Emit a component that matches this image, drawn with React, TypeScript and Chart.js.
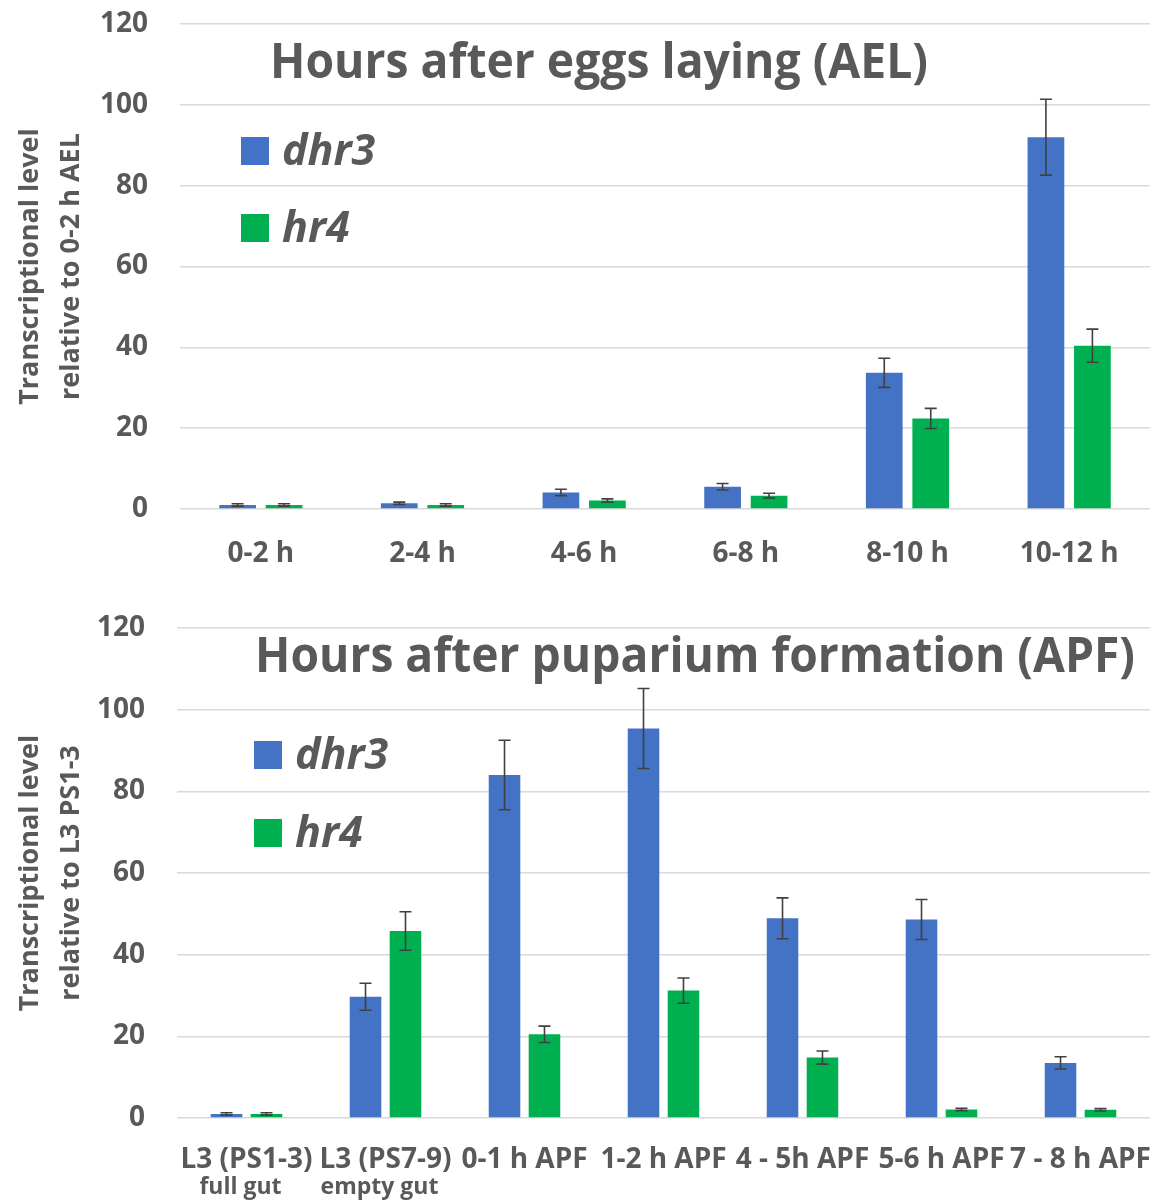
import React, { useEffect, useRef } from "react";
import { Chart, registerables } from "chart.js";

Chart.register(...registerables);

// ---------- data ----------
const topCategories = ["0-2 h", "2-4 h", "4-6 h", "6-8 h", "8-10 h", "10-12 h"];
const topDhr3 = [1.0, 1.4, 4.1, 5.5, 33.7, 92.0];
const topDhr3Err = [0.3, 0.3, 0.8, 0.8, 3.6, 9.4];
const topHr4 = [1.0, 1.0, 2.1, 3.3, 22.4, 40.4];
const topHr4Err = [0.3, 0.3, 0.4, 0.6, 2.5, 4.1];

const botCategories = ["L3 (PS1-3)", "L3 (PS7-9)", "0-1 h APF", "1-2 h APF", "4 - 5h APF", "5-6 h APF", "7 - 8 h APF"];
const botSubLabels = ["full gut", "empty gut", "", "", "", "", ""];
const botDhr3 = [1.0, 29.7, 84.0, 95.4, 48.9, 48.6, 13.5];
const botDhr3Err = [0.3, 3.3, 8.5, 9.8, 5.0, 4.9, 1.5];
const botHr4 = [1.0, 45.8, 20.5, 31.2, 14.8, 2.1, 2.0];
const botHr4Err = [0.3, 4.7, 2.0, 3.1, 1.6, 0.3, 0.3];

const seriesNames = ["dhr3", "hr4"];
const yTicks = [0, 20, 40, 60, 80, 100, 120];

const topTitle = "Hours after eggs laying (AEL)";
const botTitle = "Hours after puparium formation (APF)";
const topYTitle = ["Transcriptional level", "relative to 0-2 h AEL"];
const botYTitle = ["Transcriptional level", "relative to L3 PS1-3"];

// ---------- style ----------
const FONT = '"Open Sans", sans-serif';
const GREY = "#595959";
const BLUE = "#4472C4";
const GREEN = "#00B050";
const ERR = "#404040";
const GRID = "#d9d9d9";

type Props = {
  categories: string[];
  subLabels?: string[];
  dhr3: number[];
  dhr3Err: number[];
  hr4: number[];
  hr4Err: number[];
  title: string;
  titleX: number;
  titleW: number;
  titleBaseline: number;
  yTitle: string[];
  top: number;
  bottom: number;
  left: number;
  legendX: number;
  legendTextX: number;
  legendY: number[];
  tickPad: number;
};

function BarChart(p: Props) {
  const ref = useRef<HTMLCanvasElement | null>(null);
  useEffect(() => {
    if (!ref.current) return;
    const H = 600;
    const errs = [p.dhr3Err, p.hr4Err];
    const vals = [p.dhr3, p.hr4];
    const colors = [BLUE, GREEN];

    const overlay = {
      id: "overlay",
      afterDatasetsDraw(chart: any) {
        const ctx = chart.ctx;
        const ys = chart.scales.y;
        ctx.save();
        ctx.strokeStyle = ERR;
        ctx.lineWidth = 1.6;
        for (let i = 0; i < 2; i++) {
          const meta = chart.getDatasetMeta(i);
          meta.data.forEach((el: any, j: number) => {
            const v = vals[i][j];
            const e = errs[i][j];
            const y1 = ys.getPixelForValue(v + e);
            const y2 = ys.getPixelForValue(v - e);
            const x = el.x;
            ctx.beginPath();
            ctx.moveTo(x, y1);
            ctx.lineTo(x, y2);
            ctx.moveTo(x - 6, y1);
            ctx.lineTo(x + 6, y1);
            ctx.moveTo(x - 6, y2);
            ctx.lineTo(x + 6, y2);
            ctx.stroke();
          });
        }
        ctx.restore();
      },
      afterDraw(chart: any) {
        const ctx = chart.ctx;
        ctx.save();
        // title
        ctx.fillStyle = GREY;
        ctx.font = `bold 49px ${FONT}`;
        ctx.textAlign = "left";
        ctx.textBaseline = "alphabetic";
        ctx.fillText(p.title, p.titleX, p.titleBaseline, p.titleW);
        // legend
        for (let i = 0; i < 2; i++) {
          ctx.fillStyle = colors[i];
          ctx.fillRect(p.legendX, p.legendY[i] - 28, 28, 28);
          ctx.fillStyle = GREY;
          ctx.font = `italic bold 43px ${FONT}`;
          ctx.fillText(seriesNames[i], p.legendTextX, p.legendY[i]);
        }
        // sub labels
        if (p.subLabels) {
          const xs = chart.scales.x;
          ctx.font = `bold 23px ${FONT}`;
          ctx.textAlign = "center";
          ctx.textBaseline = "middle";
          p.subLabels.forEach((s, i) => {
            if (!s) return;
            ctx.fillText(s, xs.getPixelForTick(i) - 6, chart.chartArea.bottom + 69);
          });
        }
        ctx.restore();
      },
    };

    const chart = new Chart(ref.current, {
      type: "bar",
      data: {
        labels: p.categories,
        datasets: [
          { label: seriesNames[0], data: p.dhr3, backgroundColor: BLUE, categoryPercentage: 0.575, barPercentage: 0.79 },
          { label: seriesNames[1], data: p.hr4, backgroundColor: GREEN, categoryPercentage: 0.575, barPercentage: 0.79 },
        ],
      },
      options: {
        animation: false,
        responsive: false,
        maintainAspectRatio: false,
        layout: { padding: { top: p.top, left: 0, right: 2, bottom: 0 } },
        plugins: { legend: { display: false }, tooltip: { enabled: false }, title: { display: false } },
        scales: {
          x: {
            grid: { display: false, drawTicks: false },
            border: { display: false },
            ticks: {
              color: GREY,
              font: { family: FONT, size: 28, weight: "bold" },
              padding: p.tickPad,
              autoSkip: false,
              maxRotation: 0,
              minRotation: 0,
            },
            afterFit(s: any) {
              s.height = H - p.bottom;
              s.paddingLeft = 0;
              s.paddingRight = 0;
            },
          },
          y: {
            min: 0,
            max: 120,
            afterBuildTicks(s: any) {
              s.ticks = yTicks.map((v) => ({ value: v }));
            },
            grid: { color: GRID, lineWidth: 1.6, drawTicks: false },
            border: { display: false },
            ticks: {
              color: GREY,
              font: { family: FONT, size: 28, weight: "bold" },
              padding: 32,
            },
            title: {
              display: true,
              text: p.yTitle,
              color: GREY,
              font: { family: FONT, size: 27, weight: "bold", lineHeight: 1.52 },
              padding: { top: 10, bottom: 0 },
            },
            afterFit(s: any) {
              s.width = p.left;
              s.paddingTop = 0;
              s.paddingBottom = 0;
            },
          },
        },
      },
      plugins: [overlay],
    } as any);
    return () => chart.destroy();
  }, []);
  return <canvas ref={ref} width={1152} height={600} style={{ display: "block", width: 1152, height: 600 }} />;
}

export default function App() {
  return (
    <div style={{ position: "absolute", left: 0, top: 0, width: 1152, height: 1200, background: "#fff" }}>
      <BarChart
        categories={topCategories}
        dhr3={topDhr3}
        dhr3Err={topDhr3Err}
        hr4={topHr4}
        hr4Err={topHr4Err}
        title={topTitle}
        titleX={270}
        titleW={658}
        titleBaseline={78}
        yTitle={topYTitle}
        top={24}
        bottom={509}
        left={180}
        legendX={241}
        legendTextX={282}
        legendY={[165, 242]}
        tickPad={28}
      />
      <BarChart
        categories={botCategories}
        subLabels={botSubLabels}
        dhr3={botDhr3}
        dhr3Err={botDhr3Err}
        hr4={botHr4}
        hr4Err={botHr4Err}
        title={botTitle}
        titleX={255}
        titleW={880}
        titleBaseline={72}
        yTitle={botYTitle}
        top={28}
        bottom={518}
        left={177}
        legendX={254}
        legendTextX={295}
        legendY={[169, 247]}
        tickPad={25}
      />
    </div>
  );
}
